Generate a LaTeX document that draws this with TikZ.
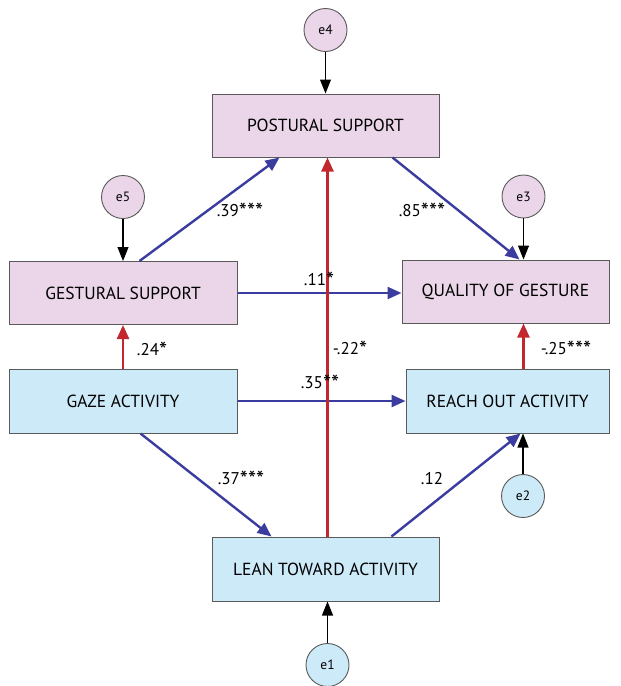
\documentclass[tikz,border=0pt]{standalone}
\usepackage{fontspec}
\setmainfont{PT Sans}
\usetikzlibrary{arrows.meta,calc}
\definecolor{pinkfill}{HTML}{EAD6E8}
\definecolor{bluefill}{HTML}{CDEAF8}
\definecolor{pathblue}{HTML}{3A3D9F}
\definecolor{pathred}{HTML}{C1272D}
\definecolor{edge}{HTML}{5A5A5A}
\newcommand\sigstars[1]{\raisebox{-3pt}{\fontsize{23}{23}\selectfont #1}}
\tikzset{
  x=1pt,y=-1pt,
  box/.style={draw=edge,line width=1pt,minimum height=63pt,inner sep=0pt,font=\fontsize{17.5}{18}\selectfont},
  pinkbox/.style={box,fill=pinkfill},
  bluebox/.style={box,fill=bluefill},
  err/.style={circle,draw=edge,line width=0.9pt,minimum size=43pt,inner sep=0pt,font=\fontsize{13.5}{14}\selectfont},
  blk/.style={draw=black,line width=1.1pt,-{Triangle[length=14pt,width=11pt]}},
  bpath/.style={draw=pathblue,line width=2.4pt,-{Triangle[length=14pt,width=12pt]}},
  rpath/.style={draw=pathred,line width=2.4pt,-{Triangle[length=14pt,width=12pt]}},
  lab/.style={font=\fontsize{17}{17}\selectfont,inner sep=0pt}
}
\begin{document}
\begin{tikzpicture}
\useasboundingbox (0,0) rectangle (621,686);
% boxes
\node[pinkbox,minimum width=227pt] (post) at (325.5,125.5) {POSTURAL SUPPORT};
\node[pinkbox,minimum width=228pt] (gest) at (123,293) {GESTURAL SUPPORT};
\node[pinkbox,minimum width=207pt] (qual) at (505.5,291.5) {QUALITY OF GESTURE};
\node[bluebox,minimum width=228pt,minimum height=64pt] (gaze) at (123,401) {GAZE ACTIVITY};
\node[bluebox,minimum width=203pt,minimum height=64pt] (reach) at (507.5,401) {REACH OUT ACTIVITY};
\node[bluebox,minimum width=227pt,minimum height=64pt] (lean) at (325.5,569) {LEAN TOWARD ACTIVITY};
% error terms
\node[err,fill=pinkfill] (e4) at (325.5,30) {e4};
\node[err,fill=pinkfill] (e5) at (123,197) {e5};
\node[err,fill=pinkfill] (e3) at (523.5,196.5) {e3};
\node[err,fill=bluefill] (e2) at (523,496) {e2};
\node[err,fill=bluefill] (e1) at (327.5,665) {e1};
% error arrows
\draw[blk] (e4) -- (post.north);
\draw[blk] (e5) -- (gest.north);
\draw[blk] (e3) -- (e3 |- qual.north);
\draw[blk] (e2) -- (e2 |- reach.south);
\draw[blk] (e1) -- (e1 |- lean.south);
% paths
\coordinate (gestA) at ($(gest.north west)+(131,0)$);
\coordinate (postA) at ($(post.south west)+(68,0)$);
\coordinate (postB) at ($(post.south west)+(181,0)$);
\coordinate (qualA) at ($(qual.north west)+(118,0)$);
\coordinate (gazeA) at ($(gaze.south west)+(132,0)$);
\coordinate (leanA) at ($(lean.north west)+(60,0)$);
\coordinate (leanB) at ($(lean.north west)+(180,0)$);
\coordinate (leanC) at ($(lean.north west)+(116,0)$);
\coordinate (reachA) at ($(reach.south west)+(115,0)$);
\draw[bpath] (gestA) -- (postA);
\draw[bpath] (postB) -- (qualA);
\draw[bpath] (gest.east) -- (qual.west |- gest.east);
\draw[rpath] (gaze.north) -- (gest.south);
\draw[bpath] (gaze.east) -- (reach.west |- gaze.east);
\draw[bpath] (gazeA) -- (leanA);
\draw[rpath] (leanC) -- (leanC |- post.south);
\draw[bpath] (leanB) -- (reachA);
\draw[rpath] (e3 |- reach.north) -- (e3 |- qual.south);
% labels
\node[lab] (l39) at (240,211) {.39\sigstars{***}};
\node[lab] (l85) at (422,211) {.85\sigstars{***}};
\node[lab] (l11) at (319,280) {.11\sigstars{*}};
\node[lab] (l24) at (152,350) {.24\sigstars{*}};
\node[lab] (l35) at (320,383) {.35\sigstars{**}};
\node[lab] (l22) at (350,349) {-.22\sigstars{*}};
\node[lab] (l25) at (566,349) {-.25\sigstars{***}};
\node[lab] (l37) at (241,479) {.37\sigstars{***}};
\node[lab] (l12) at (432,479) {.12};
\end{tikzpicture}
\end{document}
